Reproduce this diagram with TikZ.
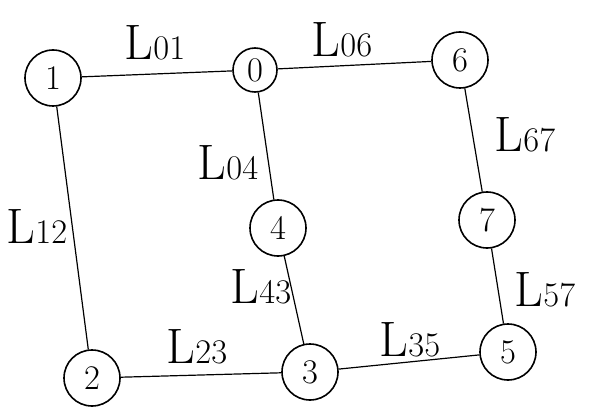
\documentclass[tikz,border=0pt]{standalone}
\usepackage{tikz}
\usetikzlibrary{positioning}
\tikzset{
  bus/.style={draw,thick,circle,minimum size=28pt,inner sep=0pt,font=\LARGE},
  busSmall/.style={bus,minimum size=22pt},
  link/.style={draw,semithick},
  lineLbl/.style={inner sep=0pt,font=\Huge}
}
\newcommand{\lineName}[1]{L{\LARGE #1}}

\begin{document}
\begin{tikzpicture}[x=0.5pt,y=-0.5pt]
\useasboundingbox (0,0) rectangle (589,417);
% buses
\node[bus] (b1) at (53,78) {1};
\node[busSmall] (b0) at (255,70) {0};
\node[bus] (b6) at (460,60) {6};
\node[bus] (b4) at (278,228) {4};
\node[bus] (b7) at (487,220) {7};
\node[bus] (b2) at (92,378) {2};
\node[bus] (b3) at (310,372) {3};
\node[bus] (b5) at (508,352) {5};
% lines
\draw[link] (b1)--(b0);\draw[link] (b0)--(b6);\draw[link] (b6)--(b7);\draw[link] (b7)--(b5);
\draw[link] (b5)--(b3);\draw[link] (b3)--(b2);\draw[link] (b2)--(b1);
\draw[link] (b0)--(b4);\draw[link] (b4)--(b3);
% line names
\node[lineLbl] (n01) at (155,43) {\lineName{01}};
\node[lineLbl] (n06) at (342,40) {\lineName{06}};
\node[lineLbl] (n67) at (525,135) {\lineName{67}};
\node[lineLbl] (n04) at (228,163) {\lineName{04}};
\node[lineLbl] (n12) at (37,227) {\lineName{12}};
\node[lineLbl] (n43) at (261,287) {\lineName{43}};
\node[lineLbl] (n23) at (197,347) {\lineName{23}};
\node[lineLbl] (n35) at (410,340) {\lineName{35}};
\node[lineLbl] (n57) at (545,290) {\lineName{57}};
\end{tikzpicture}
\end{document}
